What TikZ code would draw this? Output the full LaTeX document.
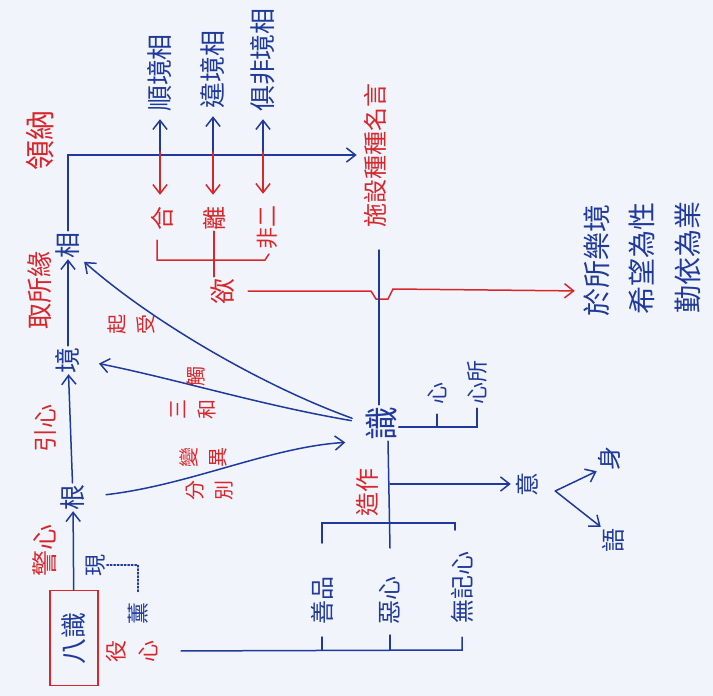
\documentclass[tikz,border=0pt]{standalone}
\usepackage{fontspec}
\usepackage{graphicx}
\newfontfamily\cjk{Noto Sans CJK TC}
\usetikzlibrary{arrows.meta, positioning, calc}
\definecolor{inkblue}{HTML}{1F3A9C}
\definecolor{inkred}{HTML}{D9262B}
\definecolor{paper}{HTML}{F1F5FB}
\newcommand{\rt}[1]{\rotatebox[origin=c]{90}{#1}}
\newcommand{\rtc}[2]{\rotatebox[origin=c]{90}{\begin{tabular}{@{}c@{}}#1\\#2\end{tabular}}}

\begin{document}
\begin{tikzpicture}[x=1pt, y=-1pt,
    lbl/.style={font=\cjk\fontsize{26}{30}\selectfont, text=inkblue, inner sep=1pt},
    rlbl/.style={lbl, text=inkred},
    sml/.style={font=\cjk\fontsize{20}{29}\selectfont, text=inkred, inner sep=1pt},
    ln/.style={inkblue, line width=1.5pt, line cap=round},
    rln/.style={inkred, line width=1.5pt, line cap=round},
    arr/.style={ln, -{Straight Barb[length=3.2mm, width=5mm]}},
    rarr/.style={rln, -{Straight Barb[length=3.2mm, width=5mm]}}
  ]
  \fill[paper] (0,0) rectangle (713,696);
  \useasboundingbox (0,0) rectangle (713,696);

  % left column
  \node[lbl, draw=inkred, line width=1.3pt, minimum width=48pt, minimum height=95pt] (bashi) at (74,638) {\rt{八識}};
  \node[rlbl] (jingxin) at (45,550) {\rt{警心}};
  \node[lbl, font=\cjk\fontsize{22}{26}\selectfont] (xian) at (96,565) {\rt{現}};
  \node[lbl, font=\cjk\fontsize{22}{26}\selectfont] (xun) at (138,613) {\rt{薰}};
  \node[rlbl, font=\cjk\fontsize{22}{32}\selectfont] (yixin) at (134,651) {\rtc{役}{心}};
  \node[lbl] (gen) at (73,497) {\rt{根}};
  \node[rlbl, font=\cjk\fontsize{24}{28}\selectfont] (yinxin) at (45,428) {\rt{引心}};
  \node[lbl] (jing) at (68,360) {\rt{境}};
  \node[rlbl] (quyuan) at (40,290) {\rt{取所緣}};
  \node[lbl] (xiang) at (68,245) {\rt{相}};
  \node[rlbl, font=\cjk\fontsize{30}{34}\selectfont] (lingna) at (40,140) {\rt{領納}};

  % top row
  \node[lbl] (shun) at (160,73) {\rt{順境相}};
  \node[lbl] (wei) at (213,70) {\rt{違境相}};
  \node[lbl] (jufei) at (263,60) {\rt{俱非境相}};
  \node[rlbl, font=\cjk\fontsize{24}{28}\selectfont] (he) at (162,218) {\rt{合}};
  \node[rlbl, font=\cjk\fontsize{24}{28}\selectfont] (li) at (214,218) {\rt{離}};
  \node[rlbl, font=\cjk\fontsize{22}{26}\selectfont] (feier) at (267,227) {\rt{非二}};
  \node[rlbl] (yu) at (223,291) {\rt{欲}};
  \node[rlbl, font=\cjk\fontsize{24}{28}\selectfont] (shishe) at (375,155) {\rt{施設種種名言}};

  % right side
  \node[lbl, font=\cjk\fontsize{28}{32}\selectfont] (yusuo) at (597,260) {\rt{於所樂境}};
  \node[lbl, font=\cjk\fontsize{28}{32}\selectfont] (xiwang) at (642,258) {\rt{希望為性}};
  \node[lbl, font=\cjk\fontsize{28}{32}\selectfont] (qinyi) at (688,257) {\rt{勤依為業}};
  \node[lbl, font=\cjk\fontsize{34}{38}\selectfont] (shi) at (382,423) {\rt{識}};
  \node[lbl, font=\cjk\fontsize{22}{26}\selectfont] (xin) at (437,393) {\rt{心}};
  \node[lbl, font=\cjk\fontsize{22}{26}\selectfont] (xinsuo) at (477,382) {\rt{心所}};
  \node[rlbl, font=\cjk\fontsize{24}{28}\selectfont] (zaozuo) at (367,492) {\rt{造作}};
  \node[lbl, font=\cjk\fontsize{24}{28}\selectfont] (yi) at (527,484) {\rt{意}};
  \node[lbl, font=\cjk\fontsize{24}{28}\selectfont] (shen) at (609,458) {\rt{身}};
  \node[lbl, font=\cjk\fontsize{24}{28}\selectfont] (yuyan) at (613,540) {\rt{語}};
  \node[lbl, font=\cjk\fontsize{24}{28}\selectfont] (shanpin) at (322,600) {\rt{善品}};
  \node[lbl, font=\cjk\fontsize{24}{28}\selectfont] (exin) at (390,600) {\rt{惡心}};
  \node[lbl, font=\cjk\fontsize{24}{28}\selectfont] (wuji) at (462,587) {\rt{無記心}};

  % Annotations
  \node[sml] (chu) at (196,376) {\rt{觸}};
  \node[sml] (sanhe) at (194,409) {\rtc{三}{和}};
  \node[sml] (qishou) at (133,324) {\rtc{起}{受}};
  \node[sml] (bianyi) at (205,457) {\rtc{變}{異}};
  \node[sml] (fenbie) at (211,490) {\rtc{分}{別}};

  \draw[arr] (bashi) -- (gen);
  \draw[ln, dotted, line width=1.6pt, shorten >=8pt] (xian.east) -| (xun.north);
  \draw[arr] (gen) -- (jing);
  \draw[arr] (jing) -- (xiang);
  \draw[arr, shorten >=6pt] (xiang.north) |- (shishe.west);
  \coordinate (top) at (68,152);
  \foreach \a/\b in {shun/he, wei/li, jufei/feier} {
    \draw[arr, shorten >=6pt] (\a.south |- top) -- (\a.south);
    \draw[rarr, shorten >=10pt] (\a.south |- top) -- (\a.south |- \b.north);
  }
  \draw[rln] (157,240) -- (157,260) -- (265,260) -- (269,254);
  \draw[rln] (li.south) -- (li.south |- yu.north);
  \draw[rarr, shorten <=12pt, shorten >=8pt] (yu.east) -- ($(shi.north |- yu.east)+(-11,0)$)
    -- ++(5,8) -- ++(12,0) -- ++(5,-10) -- (yusuo.west |- yu.east);

  \draw[ln] ([xshift=-3pt]shi.north) -- ([xshift=-3pt]shi.north |- 0,250);
  \draw[arr, shorten <=14pt, shorten >=4pt] (shi.west) .. controls (260,385) and (150,320) .. (xiang.south east);
  \draw[arr, shorten <=14pt, shorten >=18pt] (shi.west) .. controls (260,405) and (180,380) .. (jing.east);
  \draw[arr, shorten <=20pt, shorten >=20pt] (gen.east) .. controls (190,485) and (270,447) .. (shi.south west);

  \draw[ln] (shi.east |- 0,427) -- (xinsuo.south |- 0,427) -- ([yshift=-3pt]xinsuo.south);
  \draw[ln] (xin.south |- 0,427) -- ([yshift=-9pt]xin.south);

  \coordinate (stem) at (390,548);
  \draw[ln] ([xshift=6pt]shi.south) -- (stem);
  \draw[ln] (322,543) -- (322,523) -- (455,523) -- (455,530);
  \draw[arr, shorten >=4pt] (yi.west -| stem) -- (yi.west);
  \coordinate (fork) at ($(yi.east)+(16,7)$);
  \draw[arr] (fork) -- (shen.south west);
  \draw[arr] (fork) -- (yuyan.north west);

  \draw[ln, shorten <=14pt] (yixin.east) -- (462,650) -- (462,637);
  \draw[ln] (322,650) -- (322,637);
  \draw[ln] (390,650) -- (390,635);
\end{tikzpicture}
\end{document}
